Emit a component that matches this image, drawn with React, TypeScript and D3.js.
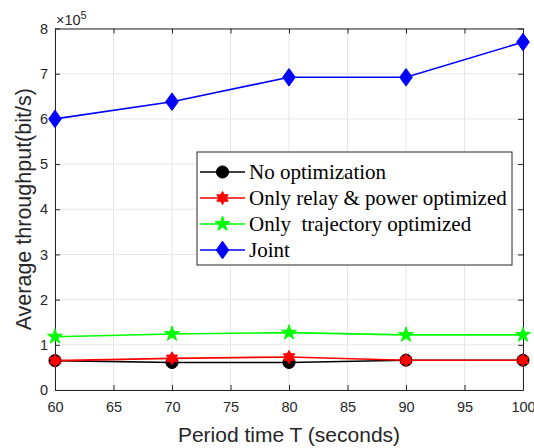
import React, { useEffect, useRef } from 'react';
import * as d3 from 'd3';

const periods = [60, 70, 80, 90, 100];
const noOpt = [0.65, 0.61, 0.61, 0.66, 0.66];
const relayPower = [0.65, 0.7, 0.73, 0.66, 0.66];
const trajectory = [1.18, 1.24, 1.27, 1.22, 1.22];
const joint = [6.0, 6.38, 6.92, 6.92, 7.7];
const xTicks = [60, 65, 70, 75, 80, 85, 90, 95, 100];
const yTicks = [0, 1, 2, 3, 4, 5, 6, 7, 8];
const seriesNames = [
  'No optimization',
  'Only relay & power optimized',
  'Only  trajectory optimized',
  'Joint',
];

// six-pointed star (MATLAB hexagram)
const hexagram = {
  draw(ctx: any, size: number) {
    const r = Math.sqrt(size) * 0.62;
    const ri = r * 0.58;
    for (let i = 0; i < 12; i++) {
      const a = (i * Math.PI) / 6 - Math.PI / 2;
      const rr = i % 2 === 0 ? r : ri;
      const px = rr * Math.cos(a);
      const py = rr * Math.sin(a);
      if (i === 0) ctx.moveTo(px, py);
      else ctx.lineTo(px, py);
    }
    ctx.closePath();
  },
};

const diamond = {
  draw(ctx: any, size: number) {
    const h = Math.sqrt(size) * 0.62;
    const w = h * 0.72;
    ctx.moveTo(0, -h);
    ctx.lineTo(w, 0);
    ctx.lineTo(0, h);
    ctx.lineTo(-w, 0);
    ctx.closePath();
  },
};

const App = () => {
  const ref = useRef<SVGSVGElement>(null);

  useEffect(() => {
    const margin = { top: 28.5, right: 11, bottom: 58, left: 55 };
    const W = 534;
    const H = 448;
    const width = W - margin.left - margin.right;
    const height = H - margin.top - margin.bottom;

    const root = d3.select(ref.current);
    root.selectAll('*').remove();
    root.attr('width', W).attr('height', H);
    root.append('rect').attr('width', W).attr('height', H).attr('fill', '#fff');

    const svg = root.append('g').attr('transform', `translate(${margin.left},${margin.top})`);

    const x = d3.scaleLinear().domain([60, 100]).range([0, width]);
    const y = d3.scaleLinear().domain([0, 8]).range([height, 0]);

    // grid
    svg.selectAll('.gx')
      .data(xTicks)
      .enter().append('line')
      .attr('x1', d => x(d)).attr('x2', d => x(d))
      .attr('y1', 0).attr('y2', height)
      .attr('stroke', '#e6e6e6').attr('stroke-width', 1);
    svg.selectAll('.gy')
      .data(yTicks)
      .enter().append('line')
      .attr('x1', 0).attr('x2', width)
      .attr('y1', d => y(d)).attr('y2', d => y(d))
      .attr('stroke', '#e6e6e6').attr('stroke-width', 1);

    const axisColor = '#262626';
    const font = '"Liberation Sans", Arial, sans-serif';

    const xb = svg.append('g')
      .attr('transform', `translate(0,${height})`)
      .call(d3.axisBottom(x).tickValues(xTicks).tickSizeInner(-5).tickSizeOuter(0).tickPadding(12));
    const xt = svg.append('g')
      .call(d3.axisTop(x).tickValues(xTicks).tickSizeInner(-5).tickSizeOuter(0).tickFormat(() => ''));
    const yl = svg.append('g')
      .call(d3.axisLeft(y).tickValues(yTicks).tickSizeInner(-5).tickSizeOuter(0).tickPadding(7));
    const yr = svg.append('g')
      .attr('transform', `translate(${width},0)`)
      .call(d3.axisRight(y).tickValues(yTicks).tickSizeInner(-5).tickSizeOuter(0).tickFormat(() => ''));

    [xb, xt, yl, yr].forEach(g => {
      g.select('.domain').attr('stroke', axisColor).attr('stroke-width', 1);
      g.selectAll('.tick line').attr('stroke', axisColor);
      g.selectAll('text').attr('fill', axisColor).attr('font-size', 14.5).attr('font-family', font);
    });

    svg.append('text')
      .attr('x', width / 2)
      .attr('y', height + 52)
      .attr('text-anchor', 'middle')
      .attr('font-family', font)
      .attr('font-size', 21)
      .attr('fill', axisColor)
      .text('Period time T (seconds)');

    svg.append('text')
      .attr('transform', `translate(${-24},${height / 2}) rotate(-90)`)
      .attr('text-anchor', 'middle')
      .attr('font-family', font)
      .attr('font-size', 21.5)
      .attr('fill', axisColor)
      .text('Average throughput(bit/s)');

    const expo = svg.append('text')
      .attr('x', 1)
      .attr('y', -4)
      .attr('font-family', font)
      .attr('font-size', 14.5)
      .attr('fill', axisColor);
    expo.append('tspan').text('\u00d710');
    expo.append('tspan').attr('dy', -6).attr('font-size', 11).text('5');

    const series = [
      { values: noOpt, color: '#000000', symbol: d3.symbolCircle, size: 115 },
      { values: relayPower, color: '#ff0000', symbol: hexagram, size: 110 },
      { values: trajectory, color: '#00ff00', symbol: d3.symbolStar, size: 70 },
      { values: joint, color: '#0000ff', symbol: diamond, size: 200 },
    ];

    const line = d3.line<number>()
      .x((d, i) => x(periods[i]))
      .y(d => y(d));

    series.forEach(s => {
      svg.append('path')
        .datum(s.values)
        .attr('d', line)
        .attr('fill', 'none')
        .attr('stroke', s.color)
        .attr('stroke-width', 1.6);
      svg.selectAll(null)
        .data(s.values)
        .enter().append('path')
        .attr('transform', (d, i) => `translate(${x(periods[i])},${y(d)})`)
        .attr('d', d3.symbol().type(s.symbol as any).size(s.size)())
        .attr('fill', s.color)
        .attr('stroke', s.color)
        .attr('stroke-width', 1);
    });

    // legend
    const lg = root.append('g').attr('transform', 'translate(197,152)');
    lg.append('rect')
      .attr('width', 315).attr('height', 113)
      .attr('fill', '#fff')
      .attr('stroke', axisColor).attr('stroke-width', 1);
    series.forEach((s, i) => {
      const cy = 20 + i * 26;
      lg.append('line')
        .attr('x1', 3).attr('x2', 48)
        .attr('y1', cy).attr('y2', cy)
        .attr('stroke', s.color).attr('stroke-width', 1.6);
      lg.append('path')
        .attr('transform', `translate(25.5,${cy})`)
        .attr('d', d3.symbol().type(s.symbol as any).size(s.size)())
        .attr('fill', s.color).attr('stroke', s.color);
      lg.append('text')
        .attr('x', 52)
        .attr('y', cy + 7)
        .attr('font-family', '"Liberation Serif", "Times New Roman", serif')
        .attr('font-size', 21)
        .attr('fill', '#000')
        .style('white-space', 'pre')
        .text(seriesNames[i]);
    });
  }, []);

  return <svg ref={ref} style={{ position: 'absolute', left: 0, top: 0 }}></svg>;
};

export default App;
